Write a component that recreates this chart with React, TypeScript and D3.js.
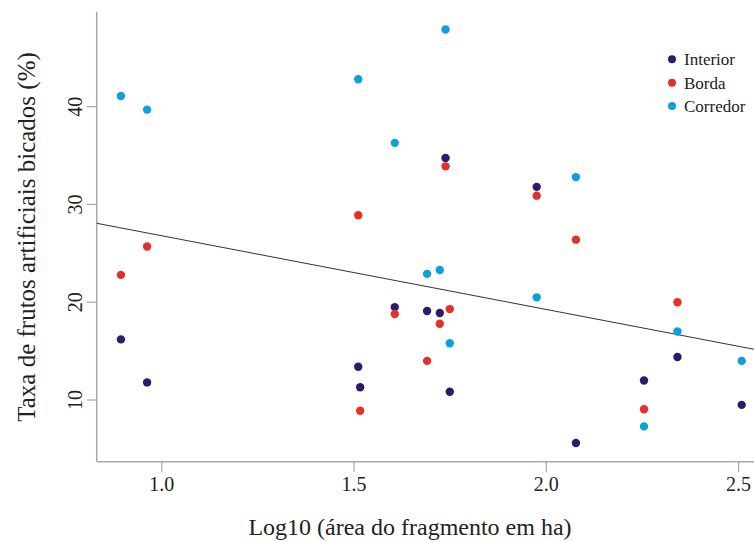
import React from "react";
import * as d3 from "d3";

// log10 of fragment area (ha)
const fragmentLogArea = [0.894, 0.962, 1.511, 1.516, 1.606, 1.69, 1.723, 1.738, 1.749, 1.975, 2.077, 2.254, 2.341, 2.508];

// % artificial fruits pecked, per habitat
const interior = [16.2, 11.8, 13.4, 11.3, 19.5, 19.1, 18.9, 34.75, 10.85, 31.8, 5.6, 12.0, 14.4, 9.5];
const borda = [22.8, 25.7, 28.9, 8.9, 18.8, 14.0, 17.8, 33.9, 19.3, 30.9, 26.4, 9.05, 20.0, null];
const corredor = [41.1, 39.7, 42.8, null, 36.3, 22.9, 23.3, 47.9, 15.8, 20.5, 32.8, 7.3, 17.0, 14.0];

const seriesNames = ["Interior", "Borda", "Corredor"];
const seriesColors = ["#2e1a6c", "#e5302a", "#0da0db"];

const xTicks = [1.0, 1.5, 2.0, 2.5];
const yTicks = [10, 20, 30, 40];

// fitted line: y = a + b * x
const fitIntercept = 34.34;
const fitSlope = -7.54;

const W = 754;
const H = 542;

export default function App() {
  const x = d3.scaleLinear().domain([0.831, 2.54]).range([96.7, 754]);
  const y = d3.scaleLinear().domain([3.69, 49.71]).range([461.7, 11.75]);

  const series = [interior, borda, corredor];
  const [x0, x1] = x.domain();
  const fitLine = d3
    .line<number>()
    .x(d => x(d))
    .y(d => y(fitIntercept + fitSlope * d));

  const font = "Liberation Serif, DejaVu Serif, serif";
  const axisColor = "#a8a8a8";

  return (
    <svg
      width={W}
      height={H}
      style={{ position: "absolute", left: 0, top: 0, background: "#fff", fontFamily: font }}
    >
      <rect width={W} height={H} fill="#fff" />

      {/* axes */}
      <line x1={x.range()[0]} x2={x.range()[0]} y1={y.range()[1]} y2={y.range()[0]} stroke={axisColor} strokeWidth={1.5} />
      <line x1={x.range()[0]} x2={x.range()[1]} y1={y.range()[0]} y2={y.range()[0]} stroke={axisColor} strokeWidth={1.5} />

      {xTicks.map(t => (
        <g key={`xt-${t}`}>
          <line x1={x(t)} x2={x(t)} y1={y.range()[0]} y2={y.range()[0] + 10} stroke={axisColor} strokeWidth={1.2} />
          <text x={x(t)} y={491} textAnchor="middle" fontSize={20} fill="#222">
            {t.toFixed(1)}
          </text>
        </g>
      ))}

      {yTicks.map(t => (
        <g key={`yt-${t}`}>
          <line x1={x.range()[0] - 10} x2={x.range()[0]} y1={y(t)} y2={y(t)} stroke={axisColor} strokeWidth={1.2} />
          <text
            x={82}
            y={y(t)}
            textAnchor="middle"
            fontSize={20}
            fill="#222"
            transform={`rotate(-90, 82, ${y(t)})`}
          >
            {t}
          </text>
        </g>
      ))}

      {/* axis titles */}
      <text x={410} y={535} textAnchor="middle" fontSize={24} fill="#222">
        Log10 (área do fragmento em ha)
      </text>
      <text
        x={35}
        y={237}
        textAnchor="middle"
        fontSize={25}
        fill="#222"
        transform="rotate(-90, 35, 237)"
      >
        Taxa de frutos artificiais bicados (%)
      </text>

      {/* regression line */}
      <path d={fitLine([x0, x1]) || ""} fill="none" stroke="#333" strokeWidth={1} />

      {/* points */}
      {series.map((vals, si) =>
        vals.map((v, i) =>
          v == null ? null : (
            <circle
              key={`${si}-${i}`}
              cx={x(fragmentLogArea[i])}
              cy={y(v)}
              r={4.2}
              fill={seriesColors[si]}
            />
          )
        )
      )}

      {/* legend */}
      {seriesNames.map((name, i) => (
        <g key={name} transform={`translate(672, ${59.3 + i * 23.4})`}>
          <circle r={4} fill={seriesColors[i]} />
          <text x={12} y={6} fontSize={17} fill="#222">
            {name}
          </text>
        </g>
      ))}
    </svg>
  );
}
